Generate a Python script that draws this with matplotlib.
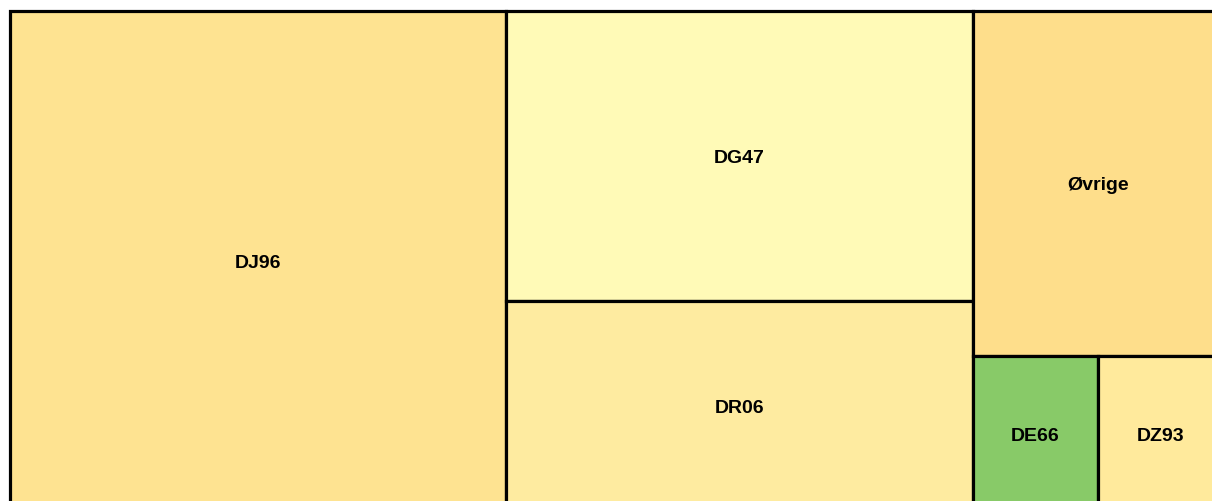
import matplotlib.pyplot as plt
from matplotlib.patches import Rectangle

# treemap data (share of total)
labels = ['DJ96', 'DG47', 'DR06', 'Øvrige', 'DE66', 'DZ93']
values = [40.9, 22.3, 16.2, 14.2, 3.2, 3.2]
colors = ['#FEE391', '#FFFAB7', '#FEEBA0', '#FEDE8B', '#88CA68', '#FFEA9C']

# how the tiles are grouped in the reference: columns, then stacked, then side by side
groups = [[0], [1, 2], [3, [4, 5]]]


def group_sum(g):
    if isinstance(g, list):
        return sum(group_sum(c) for c in g)
    return values[g]


def layout(g, x, y, w, h, horizontal, out):
    """slice-and-dice over the nested groups, alternating direction"""
    if not isinstance(g, list):
        out.append((g, x, y, w, h))
        return
    s = group_sum(g)
    for c in g:
        frac = group_sum(c) / s
        if horizontal:
            layout(c, x, y, w * frac, h, not horizontal, out)
            x += w * frac
        else:
            layout(c, x, y, w, h * frac, not horizontal, out)
            y += h * frac


fig = plt.figure(figsize=(12.12, 5.02), dpi=100)
ax = fig.add_axes([0, 0, 1, 1])
ax.set_xlim(0, 1212)
ax.set_ylim(502, 0)
ax.axis('off')

tiles = []
layout(groups, 10, 12, 1213, 501, True, tiles)

for i, rx, ry, rw, rh in tiles:
    ax.add_patch(Rectangle((rx, ry), rw, rh, facecolor=colors[i],
                           edgecolor='black', linewidth=2.3))
    ax.text(rx + rw / 2, ry + rh / 2 + 1, labels[i], ha='center', va='center',
            fontsize=14, fontweight='bold', family='Liberation Sans')

fig.savefig('out.png', dpi=100)
